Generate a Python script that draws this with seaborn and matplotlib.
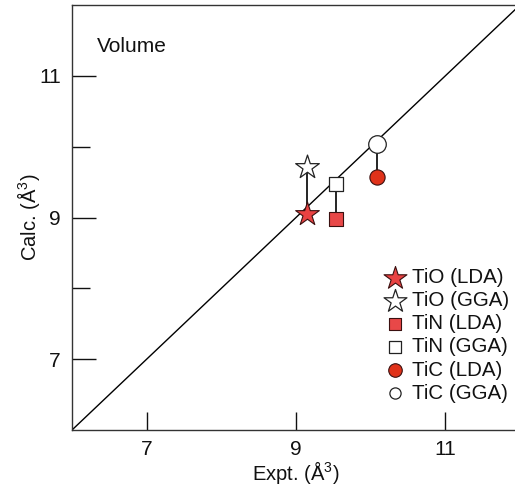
import matplotlib
matplotlib.use("Agg")
import matplotlib.pyplot as plt
import seaborn as sns
import pandas as pd
from matplotlib.ticker import FixedLocator

sns.set_theme(style="white")
plt.rcParams['font.family'] = ['Liberation Sans', 'DejaVu Sans']
plt.rcParams['mathtext.fontset'] = 'custom'
plt.rcParams['mathtext.rm'] = 'Liberation Sans'
for k in ['text.color', 'axes.labelcolor', 'xtick.color', 'ytick.color']:
    plt.rcParams[k] = '#111111'

compounds = ["TiO", "TiN", "TiC"]
expt = [9.15, 9.54, 10.08]
calc_lda = [9.05, 8.98, 9.57]
calc_gga = [9.71, 9.47, 10.04]

markers = {"TiO": "*", "TiN": "s", "TiC": "o"}
sizes_lda = {"TiO": 320, "TiN": 110, "TiC": 120}
sizes_gga = {"TiO": 320, "TiN": 110, "TiC": 160}
leg_lda = {"TiO": 300, "TiN": 80, "TiC": 95}
leg_gga = {"TiO": 300, "TiN": 80, "TiC": 65}
reds = {"TiO": "#e94242", "TiN": "#e84848", "TiC": "#e0321a"}

fig = plt.figure(figsize=(5.15, 4.93), dpi=100)
ax = fig.add_axes([72/515, (493-430)/493, 448/515, 425/493])

# diagonal
ax.plot([6, 12], [6, 12], color="black", lw=1.0, zorder=1)

# connectors
for c, x, l, g in zip(compounds, expt, calc_lda, calc_gga):
    ax.plot([x, x], [l, g], color="black", lw=1.2, zorder=2)

for c, x, l, g in zip(compounds, expt, calc_lda, calc_gga):
    df_l = pd.DataFrame({"x": [x], "y": [l]})
    df_g = pd.DataFrame({"x": [x], "y": [g]})
    sns.scatterplot(data=df_l, x="x", y="y", marker=markers[c], s=sizes_lda[c],
                    color=reds[c], edgecolor="#3a1010", linewidth=0.8, ax=ax, zorder=3)
    sns.scatterplot(data=df_g, x="x", y="y", marker=markers[c], s=sizes_gga[c],
                    color="white", edgecolor="#222222", linewidth=0.9, ax=ax, zorder=3)

# legend handles
handles = []
labels = []
for c in compounds:
    h1 = ax.scatter([], [], marker=markers[c], s=leg_lda[c], color=reds[c],
                    edgecolor="#3a1010", linewidth=0.8)
    h2 = ax.scatter([], [], marker=markers[c], s=leg_gga[c], color="white",
                    edgecolor="#222222", linewidth=0.9)
    handles += [h1, h2]
    labels += [f"{c} (LDA)", f"{c} (GGA)"]
leg = ax.legend(handles, labels, loc="lower right", bbox_to_anchor=(0.993, 0.045),
                frameon=False, fontsize=14.8, handletextpad=0.2, labelspacing=0.2,
                borderaxespad=0.0, handlelength=1.2, labelcolor="#111111")

ax.set_xlim(6, 12)
ax.set_ylim(6, 12)
ax.xaxis.set_major_locator(FixedLocator([7, 9, 11]))
ax.yaxis.set_major_locator(FixedLocator([7, 9, 11]))
ax.yaxis.set_minor_locator(FixedLocator([8, 10]))
ax.tick_params(axis="both", which="both", direction="in", colors="#111111",
               labelsize=15, width=1.0)
ax.tick_params(axis="y", which="major", length=17, left=True, right=False, pad=8)
ax.tick_params(axis="y", which="minor", length=13, left=True, right=False)
ax.tick_params(axis="x", which="major", length=13, bottom=True, top=False, pad=7)
for sp in ax.spines.values():
    sp.set_color("#333333")
    sp.set_linewidth(1.0)

ax.set_xlabel("Expt. (Å$^3$)", fontsize=14.5, labelpad=0)
ax.set_ylabel("Calc. (Å$^3$)", fontsize=14.5, labelpad=-2)
ax.text(6.34, 11.33, "Volume", fontsize=15)

fig.savefig("out.png", dpi=100)
